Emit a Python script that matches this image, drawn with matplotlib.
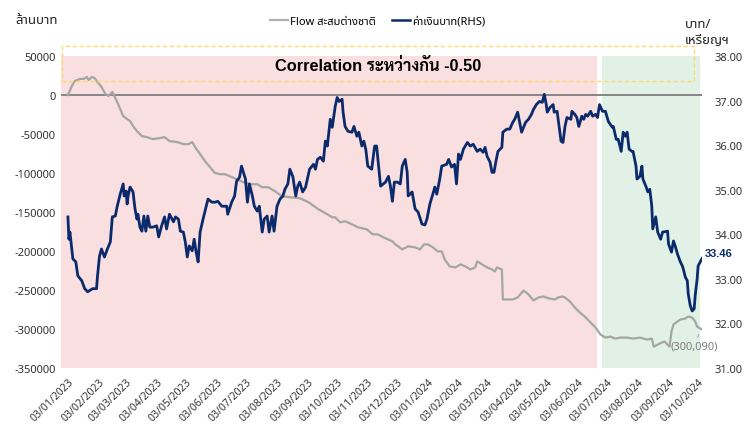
import pandas as pd
import numpy as np
import matplotlib
matplotlib.use("Agg")
import matplotlib.pyplot as plt
from matplotlib.lines import Line2D
from matplotlib.patches import Rectangle

plt.rcParams['font.family'] = ['Noto Sans', 'Noto Sans Thai', 'Sarabun', 'Anuphan', 'DejaVu Sans']
bold_family = ['Liberation Sans', 'Sarabun', 'Noto Sans Thai', 'DejaVu Sans']

# วันเริ่มต้นของข้อมูล (วันที่อ่านจากกราฟ นับเป็นจำนวนวันจาก 03/01/2023)
start = pd.Timestamp('2023-01-03')

# ค่าเงินบาท (บาท/เหรียญฯ) แกนขวา
thb_day = [0, 1, 2, 5, 8, 10, 14, 17, 20, 25, 29, 30, 32, 34, 37, 40, 43, 45, 48, 50,
           53, 56, 57, 59, 60, 61, 63, 66, 68, 70, 71, 73, 75, 77, 79, 81, 83, 86, 90, 92,
           95, 98, 100, 103, 107, 109, 112, 114, 117, 119, 121, 123, 126, 128, 130, 132, 134, 137, 139, 142,
           146, 149, 152, 156, 161, 162, 166, 169, 171, 174, 176, 180, 182, 184, 187, 189, 192, 194, 197, 199,
           202, 204, 207, 209, 212, 215, 218, 220, 223, 225, 228, 231, 233, 235, 238, 241, 245, 249, 251, 253,
           256, 259, 261, 263, 266, 268, 271, 273, 275, 278, 279, 281, 284, 288, 290, 293, 295, 298, 300, 302,
           304, 308, 311, 313, 315, 317, 322, 325, 327, 329, 331, 334, 337, 339, 342, 344, 345, 349, 352, 355,
           359, 362, 364, 367, 370, 372, 374, 377, 379, 384, 386, 389, 392, 394, 396, 398, 401, 405, 408, 411,
           415, 418, 421, 423, 425, 428, 430, 432, 434, 436, 440, 441, 445, 448, 451, 453, 456, 458, 460, 464,
           467, 470, 472, 475, 478, 481, 483, 485, 486, 489, 492, 493, 496, 498, 500, 502, 504, 506, 510, 511,
           514, 516, 518, 521, 523, 525, 527, 530, 532, 535, 537, 539, 542, 545, 548, 552, 553, 556, 558, 561,
           563, 565, 567, 569, 572, 573, 576, 577, 580, 582, 583, 586, 588, 590, 592, 593, 596, 598, 601, 603,
           608, 609, 612, 614, 616, 618, 621, 623, 624, 626, 628, 629, 631, 633, 635, 636, 638, 639, 643]
thb = [34.39, 33.89, 34.05, 33.45, 33.38, 33.07, 32.96, 32.78, 32.71, 32.78, 32.78, 33.07, 33.51, 33.67, 33.49, 33.67, 33.83, 34.39, 34.41, 34.63,
       34.90, 35.13, 34.86, 34.97, 34.68, 34.86, 35.06, 34.95, 34.57, 34.34, 34.45, 34.16, 34.07, 34.41, 34.07, 34.41, 34.16, 34.16, 34.19, 33.94,
       34.19, 34.39, 34.12, 34.45, 34.28, 34.39, 34.34, 34.07, 34.05, 33.83, 33.49, 33.74, 33.63, 33.89, 33.60, 33.38, 34.05, 34.34, 34.52, 34.79,
       34.72, 34.72, 34.74, 34.63, 34.63, 34.45, 34.72, 34.86, 35.19, 35.28, 35.53, 35.24, 34.72, 35.13, 34.86, 34.63, 34.52, 34.63, 34.05, 34.34,
       34.41, 34.05, 34.41, 34.07, 34.63, 34.79, 34.86, 35.01, 35.13, 35.46, 35.30, 34.86, 35.08, 35.17, 34.95, 35.06, 35.46, 35.57, 35.46, 35.68,
       35.73, 35.64, 36.09, 35.98, 36.58, 36.40, 36.87, 37.07, 36.98, 37.03, 36.74, 36.42, 36.31, 36.29, 36.42, 36.20, 36.29, 35.98, 36.09, 35.91,
       35.53, 35.46, 35.98, 35.98, 35.53, 35.08, 35.17, 35.30, 35.08, 34.74, 35.17, 35.17, 35.13, 35.53, 35.68, 35.39, 34.86, 34.95, 34.57, 34.50,
       34.23, 34.21, 34.34, 34.68, 34.90, 35.06, 34.90, 35.24, 35.53, 35.57, 35.68, 35.51, 35.57, 35.13, 35.80, 35.68, 35.91, 36.06, 35.98, 36.02,
       35.86, 35.91, 35.84, 35.95, 35.75, 35.62, 35.39, 35.39, 35.64, 35.86, 35.95, 36.29, 36.36, 36.36, 36.51, 36.58, 36.74, 36.51, 36.29, 36.51,
       36.58, 36.69, 36.80, 36.91, 36.98, 36.96, 37.14, 36.91, 36.74, 36.85, 36.91, 36.74, 36.76, 36.42, 36.09, 36.06, 36.42, 36.62, 36.58, 36.76,
       36.69, 36.62, 36.42, 36.65, 36.58, 36.69, 36.65, 36.76, 36.65, 36.69, 36.62, 36.91, 36.76, 36.76, 36.53, 36.40, 36.42, 36.13, 36.13, 35.86,
       36.29, 36.20, 36.29, 35.91, 35.86, 35.86, 35.53, 35.24, 35.30, 35.53, 35.24, 35.08, 34.95, 35.01, 34.63, 34.12, 34.39, 34.05, 33.89, 34.05,
       34.07, 33.78, 33.60, 33.85, 33.72, 33.56, 33.38, 33.29, 33.22, 33.04, 32.96, 32.66, 32.40, 32.28, 32.33, 32.62, 33.00, 33.29, 33.46]

# Flow สะสมต่างชาติ (ล้านบาท) แกนซ้าย
flow_day = [0, 4, 7, 12, 16, 19, 21, 24, 27, 30, 34, 38, 41, 43, 45, 47, 50, 53, 56, 60,
            63, 66, 70, 75, 80, 86, 93, 98, 103, 111, 117, 122, 126, 129, 134, 139, 144, 149, 154, 159,
            164, 171, 178, 185, 192, 197, 203, 210, 217, 225, 235, 244, 254, 263, 268, 271, 276, 281, 288, 294,
            303, 309, 314, 320, 329, 332, 339, 345, 352, 357, 361, 365, 370, 375, 379, 382, 387, 393, 398, 403,
            408, 413, 415, 420, 425, 430, 433, 435, 440, 441, 445, 451, 456, 462, 467, 472, 477, 482, 488, 494,
            497, 501, 504, 509, 514, 519, 524, 529, 535, 540, 545, 550, 555, 560, 567, 573, 580, 587, 592, 594,
            598, 602, 605, 608, 610, 612, 614, 618, 621, 626, 629, 633, 636, 638, 642]
flow = [0, 11600, 18000, 20600, 20600, 23100, 19300, 23100, 21800, 16700, 10300, 1300, -1300, 1300, 3900, -1300, -9000, -18000, -27000, -30800,
        -33400, -39800, -46300, -52700, -54000, -56500, -55300, -54000, -59100, -60400, -63000, -63000, -60400, -66800, -75800, -84800, -92500, -100000, -101500, -101500,
        -104100, -107900, -111800, -114400, -114400, -118200, -118200, -123400, -129800, -131100, -132300, -137500, -146500, -152900, -156800, -156800, -163200, -161900, -165800, -169600,
        -172200, -178600, -178600, -182500, -187600, -191500, -197900, -194000, -195300, -197900, -191500, -191500, -195300, -200500, -200500, -210700, -219700, -221000, -217200, -219700,
        -223600, -221000, -213300, -217200, -221000, -223600, -226200, -221000, -223600, -262100, -262100, -262100, -259600, -250600, -255700, -263400, -259600, -258300, -260900, -262100,
        -259600, -258300, -259600, -264700, -272400, -278800, -284000, -290400, -298100, -307100, -311000, -309700, -312300, -311000, -311000, -312300, -311000, -313500, -312300, -322600,
        -320000, -317400, -316100, -320000, -322600, -303300, -294300, -290400, -287800, -286600, -284000, -285300, -290400, -296800, -300090]

thb_dates = start + pd.to_timedelta(thb_day, unit='D')
flow_dates = start + pd.to_timedelta(flow_day, unit='D')

# ticks รายเดือน
tick_dates = pd.date_range('2023-01-03', '2024-10-03', freq=pd.DateOffset(months=1))
left_ticks = np.arange(-350000, 50001, 50000)
right_ticks = np.arange(31, 38.01, 1)

navy = '#0B2A6B'
gray = '#A3A7A3'

fig = plt.figure(figsize=(7.48, 4.27), dpi=100)
ax1 = fig.add_axes([0.0816, 0.1358, 0.857, 0.7307])
ax2 = ax1.twinx()

# พื้นหลังช่วงเวลา
ax1.axvspan(pd.Timestamp('2022-12-27'), pd.Timestamp('2024-06-22'), color='#F9DFE0', zorder=0, lw=0)
ax1.axvspan(pd.Timestamp('2024-06-28'), pd.Timestamp('2024-10-05'), color='#E1F1E6', zorder=0, lw=0)

ax1.axhline(0, color='#858585', lw=1.4, zorder=1)
ax1.plot(flow_dates, flow, color=gray, lw=1.6, zorder=2)
ax2.plot(thb_dates, thb, color=navy, lw=2.0, zorder=3)

ax1.set_xlim(pd.Timestamp('2022-12-27'), pd.Timestamp('2024-10-07'))
ax1.set_ylim(-350000, 50000)
ax2.set_ylim(31, 38)

ax1.set_yticks(left_ticks)
ax1.set_yticklabels([f'{v:d}' for v in left_ticks])
ax2.set_yticks(right_ticks)
ax2.set_yticklabels([f'{v:.2f}' for v in right_ticks])
ax1.set_xticks(tick_dates)
ax1.set_xticklabels([d.strftime('%d/%m/%Y') for d in tick_dates], rotation=45,
                    ha='right', rotation_mode='anchor')

for ax in (ax1, ax2):
    for s in ax.spines.values():
        s.set_visible(False)
    ax.tick_params(length=0, labelsize=8, colors='#333333')
ax1.tick_params(axis='y', pad=4)
ax1.tick_params(axis='x', pad=6, labelsize=7.5)
ax2.tick_params(axis='y', pad=9)

# กรอบเส้นประสีเหลือง
ax1.add_patch(Rectangle((0.0016, 0.92), 0.986, 0.112, transform=ax1.transAxes, fill=False,
                        ec='#FFD966', ls=(0, (3, 2)), lw=1.0, clip_on=False, zorder=4))
ax1.text(0.494, 0.971, 'Correlation ระหว่างกัน -0.50', transform=ax1.transAxes,
         ha='center', va='center', fontsize=11.8, fontweight='bold', color='black',
         family=bold_family, zorder=5)

# ป้ายค่าสุดท้าย
ax2.annotate(f'{thb[-1]:.2f}', (thb_dates[-1], thb[-1]), xytext=(2, 4), textcoords='offset points',
             ha='left', va='center', fontsize=8, fontweight='bold', color=navy, family=bold_family)
ax1.annotate(f'({abs(flow[-1]):,})', (flow_dates[-1], flow[-1]), xytext=(-5, -12),
             textcoords='offset points', ha='center', va='center', fontsize=8, color='#7F7F7F',
             arrowprops=dict(arrowstyle='-', color='#9A9A9A', lw=0.6, shrinkA=0, shrinkB=4))

fig.text(0.02, 0.953, 'ล้านบาท', ha='left', va='center', fontsize=9.5, color='#222222')
fig.text(0.916, 0.925, 'บาท/\nเหรียญฯ', ha='left', va='center', fontsize=9.5, color='#222222',
         linespacing=1.3)

handles = [Line2D([], [], color='#B0B0B0', lw=1.6), Line2D([], [], color=navy, lw=1.8)]
fig.legend(handles, ['Flow สะสมต่างชาติ', 'ค่าเงินบาท(RHS)'], loc='center', bbox_to_anchor=(0.505, 0.948),
           ncol=2, frameon=False, fontsize=8, handlelength=1.6, handletextpad=0.2, columnspacing=1.5)

fig.savefig('out.png', dpi=100, facecolor='white')
